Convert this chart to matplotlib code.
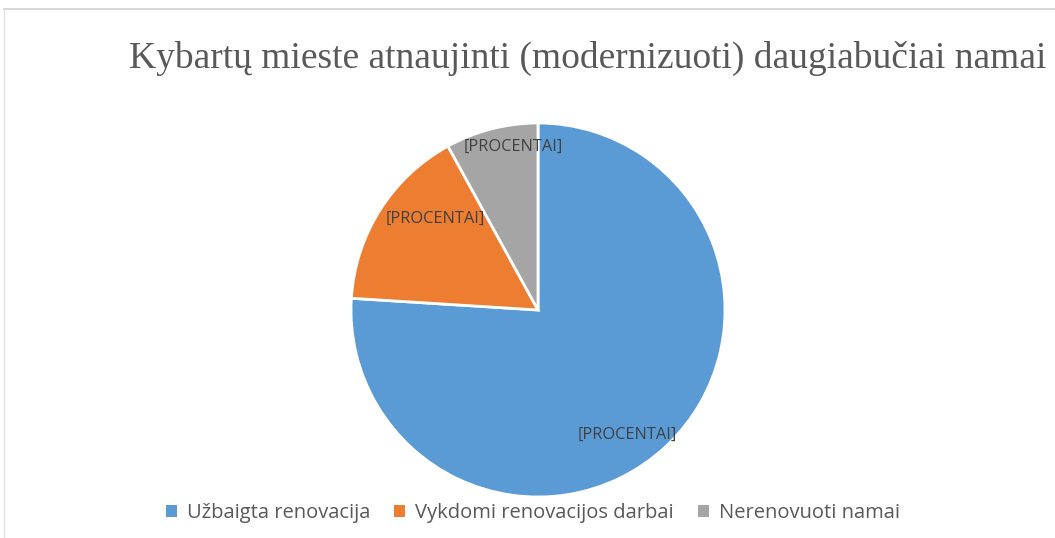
import matplotlib
matplotlib.use("Agg")
import matplotlib.pyplot as plt
from matplotlib.patches import Patch
from matplotlib.lines import Line2D

title = "Kybartų mieste atnaujinti (modernizuoti) daugiabučiai namai"
categories = ["Užbaigta renovacija", "Vykdomi renovacijos darbai", "Nerenovuoti namai"]
values = [76, 16, 8]
colors = ["#5B9BD5", "#ED7D31", "#A5A5A5"]
label_text = "[PROCENTAI]"

W, H = 1055, 538
fig = plt.figure(figsize=(W / 100, H / 100), dpi=100)
fig.patch.set_facecolor("white")

# faint chart border (top and left)
fig.add_artist(Line2D([4 / W, 1], [1 - 9 / H, 1 - 9 / H], color="#d0d0d0", lw=1.2))
fig.add_artist(Line2D([4 / W, 4 / W], [1 - 9 / H, 0], color="#e2e2e2", lw=1.0))

cx, cy, r = 538, 310, 187
ax = fig.add_axes([(cx - r) / W, (H - cy - r) / H, 2 * r / W, 2 * r / H])
wedges, _ = ax.pie(values, colors=colors, startangle=90, counterclock=False,
                   wedgeprops=dict(edgecolor="white", linewidth=2))
ax.set_xlim(-1, 1)
ax.set_ylim(-1, 1)
ax.set_aspect("equal")
ax.axis("off")

label_pos = [(0.48, -0.67), (-0.55, 0.49), (-0.134, 0.87)]
for (x, y) in label_pos:
    ax.text(x, y, label_text, ha="center", va="center", fontsize=11.8,
            color="#404040", family="Open Sans")

fig.text(588 / W, 1 - 58 / H, title, ha="center", va="center",
         fontsize=27, color="#595959", family="Liberation Serif")

handles = [Patch(facecolor=c, edgecolor="none") for c in colors]
leg = fig.legend(handles, categories, loc="center", bbox_to_anchor=(533 / W, 1 - 513 / H),
                 ncol=3, frameon=False, handlelength=0.55, handleheight=0.55,
                 handletextpad=0.5, columnspacing=1.2, prop={"family": "Open Sans", "size": 14.5})
for t in leg.get_texts():
    t.set_color("#595959")

fig.savefig("out.png", dpi=100, facecolor="white")
